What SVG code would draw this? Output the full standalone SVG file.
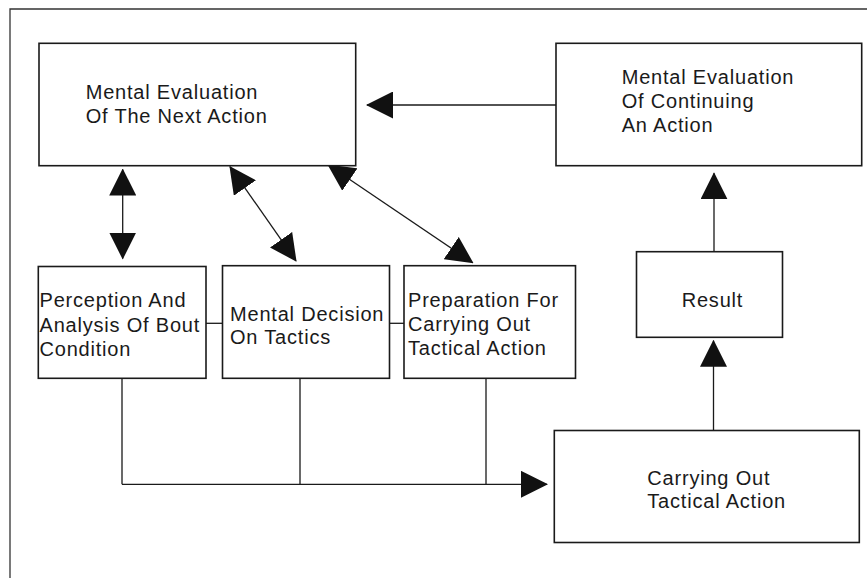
<svg xmlns="http://www.w3.org/2000/svg" width="867" height="578" viewBox="0 0 867 578">
<style>
.box{fill:#fff;stroke:#1a1a1a;stroke-width:1.6}
.t{font-family:"Liberation Sans",Arial,sans-serif;font-size:20px;letter-spacing:0.8px;fill:#1a1a1a}
.c{fill:none;stroke:#1a1a1a;stroke-width:1.3}
.frame{fill:none;stroke:#333;stroke-width:1.3}
</style>
<defs>
<marker id="ah" viewBox="0 0 27 27" markerWidth="27" markerHeight="27" refX="26" refY="13.5" orient="auto-start-reverse" markerUnits="userSpaceOnUse">
<path d="M0,0 L27,13.5 L0,27 z" fill="#111"/>
</marker>
</defs>
<path class="frame" d="M10,578 L10,9 L867,9"/>
<g id="connectors">
<line class="c" x1="556" y1="105" x2="367" y2="105" marker-end="url(#ah)"/>
<line class="c" x1="122.7" y1="169.5" x2="122.7" y2="258.5" marker-start="url(#ah)" marker-end="url(#ah)"/>
<line class="c" x1="230" y1="166.7" x2="296" y2="261" marker-start="url(#ah)" marker-end="url(#ah)"/>
<line class="c" x1="328.3" y1="165" x2="472.7" y2="262.7" marker-start="url(#ah)" marker-end="url(#ah)"/>
<line class="c" x1="206" y1="323.3" x2="222.5" y2="323.3"/>
<line class="c" x1="389.5" y1="323.3" x2="404" y2="323.3"/>
<path class="c" d="M122,378.5 L122,484.3 M300,378.5 L300,484.3 M486,378.5 L486,484.3"/>
<line class="c" x1="122" y1="484.3" x2="547" y2="484.3" marker-end="url(#ah)"/>
<line class="c" x1="713.5" y1="430.5" x2="713.5" y2="340.7" marker-end="url(#ah)"/>
<line class="c" x1="714" y1="251.7" x2="714" y2="173.3" marker-end="url(#ah)"/>
</g>
<g id="n1">
<rect class="box" x="39" y="43.3" width="316.7" height="122.4"/>
<text class="t" x="85.7" y="99.3">Mental Evaluation</text>
<text class="t" x="85.7" y="123.3">Of The Next Action</text>
</g>
<g id="n2">
<rect class="box" x="556" y="43.3" width="305.7" height="122.4"/>
<text class="t" x="621.7" y="84">Mental Evaluation</text>
<text class="t" x="621.7" y="107.8">Of Continuing</text>
<text class="t" x="621.7" y="131.6">An Action</text>
</g>
<g id="n3">
<rect class="box" x="38.3" y="266.5" width="167.7" height="111.8"/>
<text class="t" x="39.5" y="307.3">Perception And</text>
<text class="t" x="39.5" y="331.5">Analysis Of Bout</text>
<text class="t" x="39.5" y="355.7">Condition</text>
</g>
<g id="n4">
<rect class="box" x="222.5" y="265.7" width="167" height="112.6"/>
<text class="t" x="230" y="321">Mental Decision</text>
<text class="t" x="230" y="344.3">On Tactics</text>
</g>
<g id="n5">
<rect class="box" x="404" y="265.7" width="171.5" height="112.6"/>
<text class="t" x="408" y="306.7">Preparation For</text>
<text class="t" x="408" y="330.7">Carrying Out</text>
<text class="t" x="408" y="354.5">Tactical Action</text>
</g>
<g id="n6">
<rect class="box" x="636.5" y="251.7" width="146" height="85.6"/>
<text class="t" x="681.7" y="307.3">Result</text>
</g>
<g id="n7">
<rect class="box" x="554.3" y="430.5" width="305" height="112"/>
<text class="t" x="647.3" y="485">Carrying Out</text>
<text class="t" x="647.3" y="508.3">Tactical Action</text>
</g>
</svg>
